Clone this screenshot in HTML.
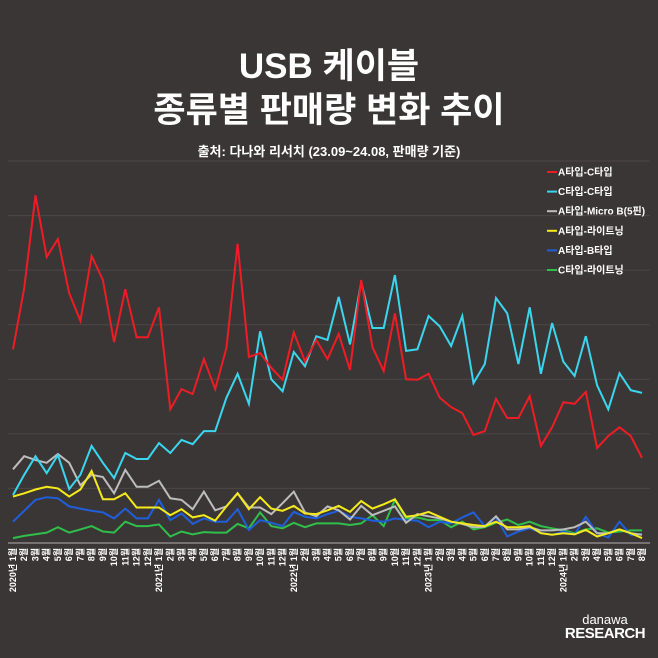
<!DOCTYPE html>
<html><head><meta charset="utf-8">
<style>
html,body{margin:0;padding:0;background:#3b3636;}
#wrap{position:relative;width:658px;height:658px;background:#3b3636;overflow:hidden;font-family:"Liberation Sans","Noto Sans CJK KR",sans-serif;color:#fff;}
.t{position:absolute;left:0;width:658px;text-align:center;font-weight:bold;}
</style></head>
<body>
<div id="wrap">
<div class="t" style="top:46px;font-size:35px;line-height:42px;">USB 케이블</div>
<div class="t" style="top:90px;font-size:35px;line-height:42px;">종류별 판매량 변화 추이</div>
<div class="t" style="top:143px;font-size:13px;line-height:18px;">출처: 다나와 리서치 (23.09~24.08, 판매량 기준)</div>
<svg id="chart" width="658" height="658" style="position:absolute;left:0;top:0;"></svg>
<div style="position:absolute;left:560px;top:613px;width:90px;text-align:center;font-weight:bold;line-height:14px;">
<div style="font-size:13px;font-weight:normal;">danawa</div>
<div style="font-size:15px;letter-spacing:-0.5px;">RESEARCH</div>
</div>
</div>
<script>
const categories = ["2020년 1월","2월","3월","4월","5월","6월","7월","8월","9월","10월","11월","12월","12월",
"2021년 1월","2월","3월","4월","5월","6월","7월","8월","9월","10월","11월","12월",
"2022년 1월","2월","3월","4월","5월","6월","7월","8월","9월","10월","11월","12월",
"2023년 1월","2월","3월","4월","5월","6월","7월","8월","9월","10월","11월","12월",
"2024년 1월","2월","3월","4월","5월","6월","7월","8월"];
const seriesNames = ["A타입-C타입","C타입-C타입","A타입-Micro B(5핀)","A타입-라이트닝","A타입-B타입","C타입-라이트닝"];
const seriesColors = ["#ee1c24","#3ad6ee","#bdbdbd","#f5ea1a","#1f5fdc","#2fbf4a"];
const aToC = [35.5,46.7,63.7,52.4,55.7,45.8,40.7,52.6,48.2,36.8,46.5,37.7,37.7,43.2,24.5,28.2,27.3,33.7,28.2,35.7,54.8,34.1,34.8,32.1,29.9,38.6,33.3,37.2,33.7,38.3,31.7,48.2,35.9,31.5,42.1,30.0,29.9,31.0,26.6,24.9,23.8,19.8,20.5,26.4,22.9,22.9,26.9,17.8,21.2,25.8,25.5,27.7,17.4,19.6,21.2,19.6,15.6];
const cToC = [8.8,12.5,15.9,12.8,16.1,9.9,12.5,17.8,14.7,11.9,16.5,15.4,15.4,18.3,16.5,18.9,18.1,20.5,20.5,26.6,31.0,25.5,38.8,30.0,27.8,35.0,32.4,37.9,37.2,45.1,36.4,47.8,39.4,39.4,49.1,35.2,35.5,41.6,39.7,36.1,41.6,29.3,32.8,44.9,42.1,32.8,43.2,31.0,40.3,33.2,30.6,37.9,28.9,24.5,31.1,28.0,27.5];
const aToMicroB = [13.5,15.9,15.2,14.7,16.3,14.7,10.6,12.5,12.1,9.1,13.4,10.3,10.3,11.4,8.2,7.9,6.2,9.4,6.0,6.7,9.1,6.5,6.5,5.3,7.3,9.4,5.6,4.9,6.7,6.0,4.3,6.8,5.1,5.9,6.7,3.7,5.3,4.9,4.5,3.9,3.5,2.9,3.0,4.9,2.5,2.5,2.9,2.3,2.3,2.5,2.9,3.9,1.8,1.8,2.5,1.8,1.5];
const aToLightning = [8.5,9.1,9.8,10.3,10.0,8.5,9.8,13.2,8.0,8.0,9.1,6.5,6.5,6.5,5.1,6.2,4.7,5.1,4.1,6.7,9.1,6.2,8.4,6.3,5.9,6.8,5.4,5.3,6.0,6.8,5.7,7.7,6.3,7.1,8.0,4.8,5.1,5.7,4.8,3.9,3.6,3.3,3.1,3.9,2.9,2.9,3.1,1.8,1.5,1.8,1.6,2.4,1.2,1.8,2.5,1.8,0.9];
const aToB = [3.9,5.9,7.9,8.4,8.2,6.7,6.3,5.9,5.6,4.5,6.3,4.5,4.5,7.9,4.2,5.4,3.5,4.5,3.9,3.9,6.2,2.4,4.2,3.7,3.1,5.7,4.8,4.5,5.3,5.9,4.8,4.5,4.1,3.9,4.5,4.2,4.1,2.9,3.9,3.6,4.7,5.6,3.1,4.7,1.2,2.1,2.7,1.9,1.5,2.1,1.6,4.8,1.8,1.0,3.9,1.5,1.6];
const cToLightning = [0.9,1.3,1.6,1.9,2.9,1.9,2.5,3.1,2.1,1.9,3.9,3.1,3.1,3.4,1.2,2.1,1.6,2.0,1.9,1.9,3.5,2.7,5.6,3.1,2.7,3.7,2.9,3.6,3.6,3.6,3.3,3.6,5.1,3.1,7.9,4.5,4.7,4.2,4.2,2.9,3.9,2.5,2.9,3.7,4.3,3.3,3.9,3.1,2.7,2.3,1.8,2.5,2.7,1.9,2.1,2.3,2.3];
const gridTicks = [0,10,20,30,40,50,60,70];

const NS="http://www.w3.org/2000/svg";
const svg=document.getElementById('chart');
const X0=13, X1=642, Y0=543, YTOP=161, YMAX=70;
function xScale(i){return X0+(X1-X0)*i/(categories.length-1);}
function yScale(v){return Y0-(Y0-YTOP)*v/YMAX;}
function mk(tag,attrs){const e=document.createElementNS(NS,tag);for(const k in attrs)e.setAttribute(k,attrs[k]);svg.appendChild(e);return e;}

gridTicks.forEach(t=>{
  if(t===0)return;
  const l=mk('line',{x1:8,x2:650,y1:yScale(t),y2:yScale(t),stroke:'#4c4747','stroke-width':1});
  
  
});
const ax=mk('line',{x1:8,x2:650,y1:Y0,y2:Y0,stroke:'#8a8585','stroke-width':1.5});



categories.forEach((c,i)=>{
  const x=xScale(i), y=548;
  const t=mk('text',{x:0,y:0,transform:`translate(${x+3},${y}) rotate(-90)`,'text-anchor':'end','font-size':9,'font-weight':'bold',fill:'#fff','font-family':'"Liberation Sans","Noto Sans CJK KR",sans-serif'});
  t.textContent=c;
  
  
});

const allSeries=[aToC,cToC,aToMicroB,aToLightning,aToB,cToLightning];
const drawOrder=[5,4,2,3,1,0];
drawOrder.forEach(s=>{
  const pts=allSeries[s].map((v,i)=>xScale(i).toFixed(1)+','+yScale(v).toFixed(1)).join(' ');
  const p=mk('polyline',{points:pts,fill:'none',stroke:seriesColors[s],'stroke-width':2,'stroke-linejoin':'miter'});
  
  
});

seriesNames.forEach((n,k)=>{
  const y=172+k*19.6;
  const l=mk('line',{x1:547,x2:557,y1:y,y2:y,stroke:seriesColors[k],'stroke-width':2});
  
  
  const t=mk('text',{x:558,y:y+3.5,'font-size':10,'font-weight':'bold',fill:'#fff','font-family':'"Liberation Sans","Noto Sans CJK KR",sans-serif'});
  t.textContent=n;
  
  
});
</script>
</body></html>
